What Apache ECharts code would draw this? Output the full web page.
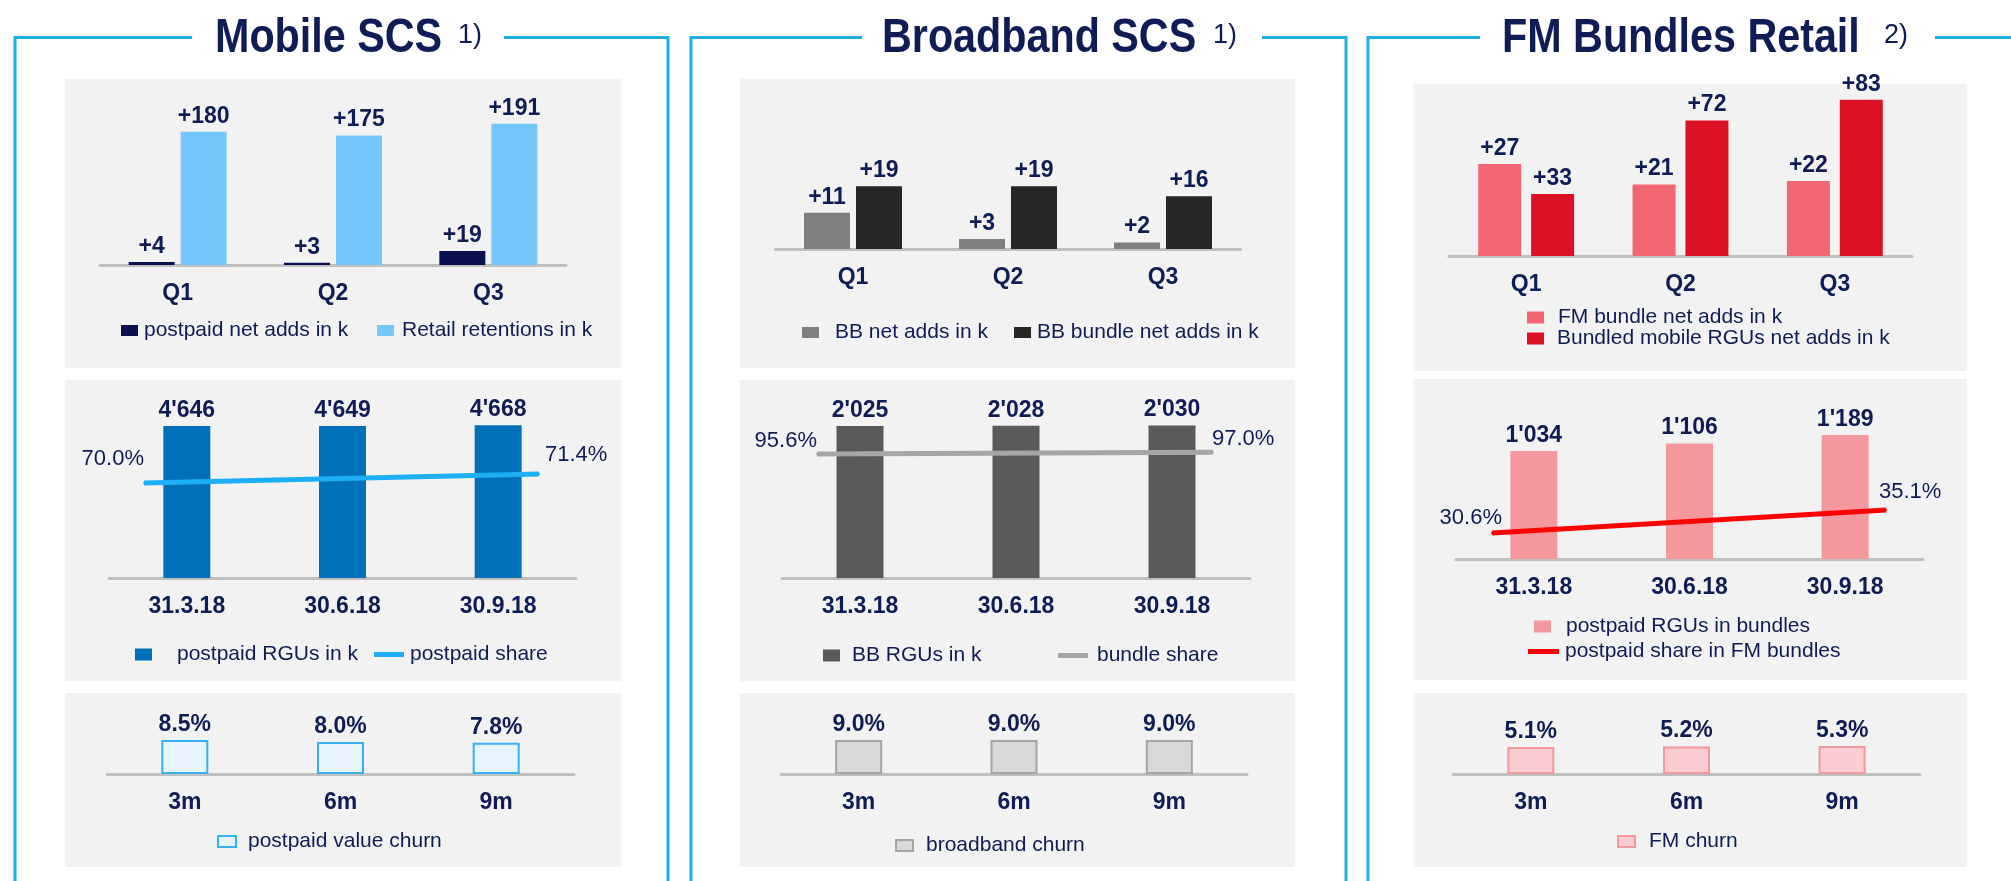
<!DOCTYPE html>
<html>
<head>
<meta charset="utf-8">
<title>Mobile SCS / Broadband SCS / FM Bundles Retail</title>
<script src="https://cdn.jsdelivr.net/npm/echarts@6/dist/echarts.min.js"></script>
<style>
    html, body { margin: 0; padding: 0; background: #fff; }
    #chart { width: 2011px; height: 881px; }
</style>
</head>
<body>
<div id="chart"></div>
<script>
// categories
var quarters = ['Q1', 'Q2', 'Q3'];
var dates = ['31.3.18', '30.6.18', '30.9.18'];
var shareDates = ['31.3.18', '30.9.18'];
var months = ['3m', '6m', '9m'];

// Mobile SCS
var postpaidNetAdds = [4, 3, 19];
var retailRetentions = [180, 175, 191];
var postpaidRgus = [4646, 4649, 4668];
var postpaidShare = [70.0, 71.4];
var postpaidChurn = [8.5, 8.0, 7.8];

// Broadband SCS
var bbNetAdds = [11, 3, 2];
var bbBundleNetAdds = [19, 19, 16];
var bbRgus = [2025, 2028, 2030];
var bundleShare = [95.6, 97.0];
var bbChurn = [9.0, 9.0, 9.0];

// FM Bundles Retail
var fmBundleNetAdds = [27, 21, 22];
var bundledMobileNetAdds = [33, 72, 83];
var rgusInBundles = [1034, 1106, 1189];
var fmShare = [30.6, 35.1];
var fmChurn = [5.1, 5.2, 5.3];

var NAVY = '#0f1c55';
var FONT = 'Liberation Sans';
var FRAME = '#1bafe8';

function fmtPlus(p) { return '+' + p.value; }
function fmtThousands(p) { return String(p.value).replace(/\B(?=(\d{3})+(?!\d))/g, "'"); }
function fmtPct(p) { return Number(p.value).toFixed(1) + '%'; }

var grids = [], xAxes = [], yAxes = [], series = [], legends = [], graphics = [];

// grid with category x axis; the axis line sits at axisY
function addGrid(left, width, axisY, height, cats, showAxis, boundaryGap, margin) {
    grids.push({left: left, width: width, top: axisY - height, height: height});
    var gi = grids.length - 1;
    xAxes.push({
        type: 'category', gridIndex: gi, data: cats, show: showAxis,
        boundaryGap: boundaryGap,
        axisTick: {show: false},
        axisLine: {lineStyle: {color: '#bfbfbf', width: 3}},
        axisLabel: {margin: margin || 17, color: NAVY, fontFamily: FONT, fontWeight: 'bold', fontSize: 23}
    });
    return gi;
}

function addYAxis(gi, min, max) {
    yAxes.push({type: 'value', gridIndex: gi, min: min, max: max, show: false});
    return yAxes.length - 1;
}

function barLabel(fmt) {
    return {show: true, position: 'top', distance: 4, color: NAVY, fontFamily: FONT,
        fontWeight: 'bold', fontSize: 23, formatter: fmt};
}

function addBar(gi, yi, name, data, color, width, fmt, gap, extraStyle) {
    var style = {color: color};
    if (extraStyle) { style.borderColor = extraStyle.borderColor; style.borderWidth = extraStyle.borderWidth; }
    series.push({
        type: 'bar', name: name, xAxisIndex: gi, yAxisIndex: yi, data: data,
        barWidth: width, barGap: gap || '13%', itemStyle: style, label: barLabel(fmt), z: 3
    });
}

function addShareLine(gi, yi, name, values, color, offsets) {
    series.push({
        type: 'line', name: name, xAxisIndex: gi, yAxisIndex: yi,
        data: values.map(function (v, i) {
            return {value: v, label: {position: i === 0 ? 'left' : 'right', offset: offsets[i]}};
        }),
        symbol: 'circle', symbolSize: 2,
        lineStyle: {color: color, width: 5}, itemStyle: {color: color},
        label: {show: true, distance: 0, color: NAVY, fontFamily: FONT, fontSize: 22, formatter: fmtPct},
        z: 5
    });
}

function addLegend(name, left, cy, w, h, gap, border) {
    var l = {
        left: left, top: cy - 11, padding: 0, selectedMode: false,
        itemWidth: w, itemHeight: h,
        data: [{name: name, icon: 'rect'}],
        textStyle: {color: NAVY, fontFamily: FONT, fontSize: 21, padding: [0, 0, 0, gap - 5]}
    };
    if (border) l.itemStyle = {borderColor: border, borderWidth: 2};
    legends.push(l);
}

function addBox(x1, y1, x2, y2) {
    graphics.push({type: 'rect', z: -10, silent: true, shape: {x: x1, y: y1, width: x2 - x1, height: y2 - y1},
        style: {fill: '#f2f2f2'}});
}

function addFrame(left, right, gapL, gapR, title, titleX, note, noteX) {
    graphics.push({type: 'polyline', z: -5, silent: true, shape: {points: [[gapL, 37.5], [left, 37.5], [left, 900]]},
        style: {stroke: FRAME, lineWidth: 3, fill: null}});
    graphics.push({type: 'polyline', z: -5, silent: true, shape: {points: [[gapR, 37.5], [right, 37.5], [right, 900]]},
        style: {stroke: FRAME, lineWidth: 3, fill: null}});
    // the title face is narrow, so squeeze a bold sans horizontally
    graphics.push({type: 'text', x: titleX, y: 39, scaleX: 0.86, silent: true,
        style: {text: title, fill: NAVY, font: 'bold 48px "Liberation Sans"', verticalAlign: 'middle'}});
    graphics.push({type: 'text', x: noteX, y: 36, silent: true,
        style: {text: note, fill: NAVY, font: '27px "Liberation Sans"', verticalAlign: 'middle'}});
}

// ---------- frames, titles, grey boxes ----------
addFrame(15, 668, 192, 504, 'Mobile SCS', 215, '1)', 458);
addFrame(691, 1346, 862, 1262, 'Broadband SCS', 882, '1)', 1213);
addFrame(1368, 2030, 1480, 1935, 'FM Bundles Retail', 1502, '2)', 1884);

addBox(65, 79, 621, 368); addBox(65, 380, 621, 681); addBox(65, 693, 621, 867);
addBox(740, 79, 1295, 368); addBox(740, 380, 1295, 681); addBox(740, 693, 1295, 867);
addBox(1413, 84, 1967, 371); addBox(1413, 379, 1967, 680); addBox(1413, 693, 1967, 867);

// ---------- Mobile SCS ----------
var g = addGrid(100, 466, 265, 148, quarters, true, true, 17);
var y = addYAxis(g, 0, 200);
addBar(g, y, 'postpaid net adds in k', postpaidNetAdds, '#0b1150', 46, fmtPlus);
addBar(g, y, 'Retail retentions in k', retailRetentions, '#76c7fc', 46, fmtPlus);
addLegend('postpaid net adds in k', 121, 331, 17, 11, 6);
addLegend('Retail retentions in k', 377, 331, 17, 11, 8);

g = addGrid(109, 467, 578, 163.6, dates, true, true);
y = addYAxis(g, 0, 5000);
addBar(g, y, 'postpaid RGUs in k', postpaidRgus, '#0071b9', 47, fmtThousands);
g = addGrid(144, 395, 547.3, 128.6, shareDates, false, false);
y = addYAxis(g, 60, 80);
addShareLine(g, y, 'postpaid share', postpaidShare, '#1eaef5', [[1, -24], [5, -19]]);
addLegend('postpaid RGUs in k', 135, 655, 17, 12, 25);
addLegend('postpaid share', 374, 655, 30, 5, 6);

g = addGrid(107, 467, 774, 40, months, true, true);
y = addYAxis(g, 0, 10);
addBar(g, y, 'postpaid value churn', postpaidChurn, '#e6f4fd', 47, fmtPct, null, {borderColor: '#35b3ef', borderWidth: 2});
addLegend('postpaid value churn', 217, 842, 18, 11, 12, '#35b3ef');

// ---------- Broadband SCS ----------
g = addGrid(775.5, 465, 249, 82.5, quarters, true, true);
y = addYAxis(g, 0, 25);
addBar(g, y, 'BB net adds in k', bbNetAdds, '#7f7f7f', 46, fmtPlus);
addBar(g, y, 'BB bundle net adds in k', bbBundleNetAdds, '#262626', 46, fmtPlus);
addLegend('BB net adds in k', 802, 333, 17, 11, 16);
addLegend('BB bundle net adds in k', 1014, 333, 17, 11, 6);

g = addGrid(782, 468, 578, 187.7, dates, true, true);
y = addYAxis(g, 0, 2500);
addBar(g, y, 'BB RGUs in k', bbRgus, '#595959', 47, fmtThousands);
g = addGrid(817, 396, 578, 129.7, shareDates, false, false);
y = addYAxis(g, 0, 100);
addShareLine(g, y, 'bundle share', bundleShare, '#a6a6a6', [[1, -13], [-2, -13]]);
addLegend('BB RGUs in k', 823, 656, 17, 12, 12);
addLegend('bundle share', 1058, 656, 30, 5, 9);

g = addGrid(781, 466, 774, 37.8, months, true, true);
y = addYAxis(g, 0, 10);
addBar(g, y, 'broadband churn', bbChurn, '#d9d9d9', 47, fmtPct, null, {borderColor: '#a5a5a5', borderWidth: 2});
addLegend('broadband churn', 895, 846, 17, 11, 13, '#a5a5a5');

// ---------- FM Bundles Retail ----------
g = addGrid(1449, 463, 256, 160, quarters, true, true);
y = addYAxis(g, 0, 47);
var y2 = addYAxis(g, 0, 85);
addBar(g, y, 'FM bundle net adds in k', fmBundleNetAdds, '#f26672', 43, fmtPlus, '23%');
addBar(g, y2, 'Bundled mobile RGUs net adds in k', bundledMobileNetAdds, '#dc1224', 43, fmtPlus, '23%');
addLegend('FM bundle net adds in k', 1527, 318, 17, 12, 14);
addLegend('Bundled mobile RGUs net adds in k', 1527, 339, 17, 12, 13);

g = addGrid(1456, 467, 559, 156.5, dates, true, true);
y = addYAxis(g, 0, 1500);
addBar(g, y, 'postpaid RGUs in bundles', rgusInBundles, '#f5989e', 47, fmtThousands);
g = addGrid(1492, 394, 587.2, 102.2, shareDates, false, false);
y = addYAxis(g, 20, 40);
addShareLine(g, y, 'postpaid share in FM bundles', fmShare, '#ff0000', [[11, -15], [-8, -18]]);
addLegend('postpaid RGUs in bundles', 1534, 627, 17, 12, 15);
addLegend('postpaid share in FM bundles', 1528, 652, 31, 5, 6);

g = addGrid(1453, 467, 774, 52.8, months, true, true);
y = addYAxis(g, 0, 10);
addBar(g, y, 'FM churn', fmChurn, '#fbccd0', 47, fmtPct, null, {borderColor: '#f4979e', borderWidth: 2});
addLegend('FM churn', 1617, 842, 17, 11, 14, '#f4979e');

var chart = echarts.init(document.getElementById('chart'));
chart.setOption({
    animation: false,
    backgroundColor: '#ffffff',
    grid: grids,
    xAxis: xAxes,
    yAxis: yAxes,
    legend: legends,
    graphic: graphics,
    series: series
});
</script>
</body>
</html>
